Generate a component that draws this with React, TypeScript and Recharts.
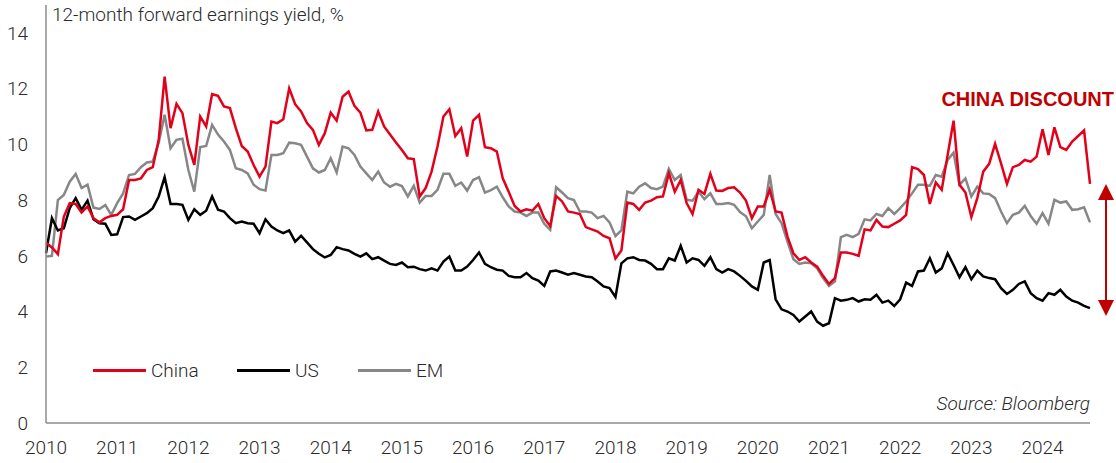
import React from 'react';
import { LineChart, Line, XAxis, YAxis } from 'recharts';

// monthly, Jan 2010 .. Sep 2024
const china = [
  6.47, 6.3, 6.06, 7.4, 7.89, 7.86, 7.55, 7.77, 7.35, 7.2, 7.35, 7.43,
  7.47, 7.67, 8.72, 8.72, 8.78, 9.08, 9.18, 10.16, 12.43, 10.58, 11.45, 11.12,
  9.98, 9.26, 11.0, 10.64, 11.8, 11.74, 11.36, 11.3, 10.58, 9.94, 9.74, 9.26,
  8.84, 9.2, 10.82, 10.76, 10.9, 12.01, 11.44, 11.18, 10.76, 10.52, 9.98, 10.4,
  11.14, 10.85, 11.71, 11.89, 11.38, 11.14, 10.5, 10.52, 11.18, 10.64, 10.35, 10.07,
  9.8, 9.5, 9.47, 8.13, 8.43, 9.02, 9.92, 11.0, 11.26, 10.3, 10.58, 9.56,
  10.85, 11.06, 9.9, 9.86, 9.74, 8.78, 8.3, 7.79, 7.59, 7.67, 7.62, 7.86,
  7.35, 7.07, 8.15, 7.95, 7.59, 7.55, 7.5, 7.03, 6.95, 6.87, 6.71, 6.63,
  5.9, 6.19, 7.91, 7.86, 7.65, 7.91, 7.98, 8.1, 8.13, 8.96, 8.3, 8.72,
  7.89, 7.5, 8.37, 8.22, 8.94, 8.34, 8.33, 8.43, 8.46, 8.27, 7.98, 7.35,
  7.77, 7.77, 8.37, 7.59, 7.55, 6.69, 6.09, 5.85, 5.95, 5.76, 5.61, 5.28,
  4.99, 5.2, 6.12, 6.12, 6.07, 6.0, 6.95, 6.91, 7.29, 7.05, 7.03, 7.15,
  7.27, 7.47, 9.18, 9.11, 8.9, 7.86, 8.63, 8.37, 9.62, 10.85, 8.55, 8.27,
  7.39, 8.07, 9.02, 9.3, 10.02, 9.32, 8.58, 9.18, 9.26, 9.44, 9.38, 9.56,
  10.54, 9.62, 10.61, 9.9, 9.8, 10.1, 10.3, 10.5, 8.58,
];

const us = [
  6.09, 7.35, 6.91, 6.99, 7.71, 8.07, 7.65, 7.98, 7.31, 7.17, 7.15, 6.75,
  6.77, 7.39, 7.41, 7.29, 7.41, 7.53, 7.71, 8.13, 8.82, 7.86, 7.86, 7.83,
  7.29, 7.67, 7.47, 7.62, 8.13, 7.65, 7.59, 7.35, 7.17, 7.23, 7.17, 7.15,
  6.81, 7.31, 7.05, 6.91, 6.81, 6.91, 6.51, 6.72, 6.48, 6.24, 6.07, 5.94,
  6.03, 6.31, 6.24, 6.19, 6.07, 5.97, 6.09, 5.88, 5.95, 5.83, 5.71, 5.67,
  5.76, 5.59, 5.61, 5.52, 5.47, 5.55, 5.47, 5.79, 5.97, 5.47, 5.47, 5.61,
  5.85, 6.12, 5.71, 5.59, 5.5, 5.47, 5.28, 5.23, 5.23, 5.38, 5.2, 5.11,
  4.92, 5.44, 5.47, 5.4, 5.32, 5.38, 5.32, 5.26, 5.23, 5.08, 4.9, 4.84,
  4.52, 5.73, 5.91, 5.95, 5.85, 5.83, 5.71, 5.52, 5.52, 5.91, 5.83, 6.36,
  5.76, 5.91, 5.85, 5.64, 5.95, 5.52, 5.4, 5.52, 5.44, 5.28, 5.1, 4.9,
  4.78, 5.76, 5.85, 4.44, 4.08, 4.0, 3.88, 3.64, 3.82, 4.0, 3.64, 3.49,
  3.58, 4.48, 4.39, 4.42, 4.48, 4.36, 4.44, 4.42, 4.6, 4.32, 4.39, 4.2,
  4.44, 5.04, 4.92, 5.44, 5.47, 5.91, 5.4, 5.55, 6.09, 5.67, 5.23, 5.59,
  5.16, 5.47, 5.26, 5.2, 5.16, 4.84, 4.63, 4.78, 4.99, 5.08, 4.66, 4.48,
  4.39, 4.66, 4.6, 4.78, 4.54, 4.39, 4.32, 4.2, 4.12,
];

const em = [
  5.97, 6.0, 8.0, 8.18, 8.66, 8.94, 8.43, 8.55, 7.73, 7.68, 7.82, 7.47,
  7.89, 8.24, 8.9, 8.94, 9.18, 9.35, 9.38, 10.06, 11.06, 9.86, 10.16, 10.2,
  9.08, 8.3, 9.9, 9.94, 10.7, 10.35, 10.1, 9.8, 9.14, 9.08, 8.96, 8.55,
  8.39, 8.34, 9.62, 9.62, 9.68, 10.06, 10.04, 9.98, 9.56, 9.14, 8.99, 9.08,
  9.5, 8.99, 9.92, 9.86, 9.62, 9.2, 8.96, 8.72, 9.02, 8.63, 8.48, 8.58,
  8.5, 8.13, 8.51, 7.91, 8.15, 8.15, 8.37, 8.94, 8.94, 8.51, 8.63, 8.34,
  8.72, 8.82, 8.27, 8.36, 8.48, 8.1, 7.77, 7.59, 7.55, 7.43, 7.55, 7.55,
  7.15, 6.93, 8.46, 8.27, 8.07, 8.0, 7.59, 7.59, 7.55, 7.35, 7.43, 7.2,
  6.71, 6.91, 8.3, 8.24, 8.48, 8.6, 8.43, 8.39, 8.48, 9.12, 8.72, 8.9,
  8.01, 7.98, 8.3, 8.03, 8.24, 7.86, 7.86, 7.89, 7.83, 7.57, 7.42, 6.99,
  7.23, 7.47, 8.9, 7.5, 7.17, 6.51, 5.88, 5.71, 5.76, 5.73, 5.55, 5.2,
  4.92, 5.08, 6.67, 6.75, 6.67, 6.79, 7.31, 7.27, 7.5, 7.43, 7.71, 7.5,
  7.71, 7.95, 8.24, 8.55, 8.55, 8.51, 8.9, 8.84, 9.44, 9.7, 8.55, 8.78,
  8.13, 8.48, 8.24, 8.22, 8.07, 7.59, 7.17, 7.47, 7.55, 7.79, 7.43, 7.15,
  7.53, 7.15, 8.01, 7.91, 7.95, 7.65, 7.67, 7.74, 7.2,
];

const months = china.map((_, i) => i);
const yearTicks = [0, 12, 24, 36, 48, 60, 72, 84, 96, 108, 120, 132, 144, 156, 168];
const yTicks = [0, 2, 4, 6, 8, 10, 12, 14];

const series = [
  { key: 'china', name: 'China', color: '#e2001a' },
  { key: 'us', name: 'US', color: '#000000' },
  { key: 'em', name: 'EM', color: '#878787' },
];

const data = months.map((m, i) => ({ m, china: china[i], us: us[i], em: em[i] }));

const FONT = 'Roboto, "Liberation Sans", sans-serif';
const TEXT = '#2a2a2a';
const DARK_RED = '#c00000';

const legendPos = [93, 237, 358];

function LegendBox() {
  return (
    <div style={{ position: 'absolute', left: 0, top: 359, height: 24 }}>
      {series.map((s, i) => (
        <div
          key={s.key}
          style={{ position: 'absolute', left: legendPos[i], top: 0, display: 'flex', alignItems: 'center', whiteSpace: 'nowrap' }}
        >
          <div style={{ width: 53, height: 3, background: s.color, marginRight: 5 }} />
          <span style={{ fontSize: 19, fontWeight: 300, color: TEXT, fontFamily: FONT }}>{s.name}</span>
        </div>
      ))}
    </div>
  );
}

export default function App() {
  return (
    <div style={{ position: 'absolute', left: 0, top: 0, width: 1116, height: 463, background: '#fff', fontFamily: FONT }}>
      <LineChart width={1116} height={463} data={data} margin={{ top: 5, right: 26, bottom: 10, left: 0 }}>
        <XAxis
          dataKey="m"
          type="number"
          domain={[0, 176]}
          ticks={yearTicks}
          tickFormatter={(v) => String(2010 + v / 12)}
          tickLine={false}
          tickSize={0}
          tickMargin={18}
          height={30}
          axisLine={{ stroke: '#8c8c8c', strokeWidth: 1.5 }}
          tick={{ fill: TEXT, fontSize: 19, fontWeight: 300, fontFamily: FONT }}
        />
        <YAxis
          type="number"
          domain={[0, 15]}
          ticks={yTicks}
          width={46}
          tickLine={false}
          tickSize={0}
          tickMargin={18}
          axisLine={{ stroke: '#8c8c8c', strokeWidth: 1.5 }}
          tick={{ fill: TEXT, fontSize: 19, fontWeight: 300, fontFamily: FONT }}
        />
        {[...series].reverse().map((s) => (
          <Line
            key={s.key}
            dataKey={s.key}
            name={s.name}
            stroke={s.color}
            strokeWidth={2.5}
            dot={false}
            type="linear"
            isAnimationActive={false}
          />
        ))}
      </LineChart>

      <LegendBox />

      <div style={{ position: 'absolute', left: 52, top: 3, fontSize: 19, fontWeight: 300, color: TEXT, whiteSpace: 'nowrap' }}>
        12-month forward earnings yield, %
      </div>
      <div
        style={{
          position: 'absolute',
          right: 2,
          top: 88,
          fontSize: 20,
          fontWeight: 'bold',
          color: DARK_RED,
          fontFamily: '"Liberation Sans", Arial, sans-serif',
        }}
      >
        CHINA DISCOUNT
      </div>
      <div style={{ position: 'absolute', right: 26, top: 392, fontSize: 19, fontWeight: 300, fontStyle: 'italic', color: TEXT }}>
        Source: Bloomberg
      </div>
      <svg width={1116} height={463} style={{ position: 'absolute', left: 0, top: 0, pointerEvents: 'none' }}>
        <line x1={1106} y1={196} x2={1106} y2={304} stroke={DARK_RED} strokeWidth={2} />
        <polygon points="1106,184 1098,200 1114,200" fill={DARK_RED} />
        <polygon points="1106,316 1098,300 1114,300" fill={DARK_RED} />
      </svg>
    </div>
  );
}
